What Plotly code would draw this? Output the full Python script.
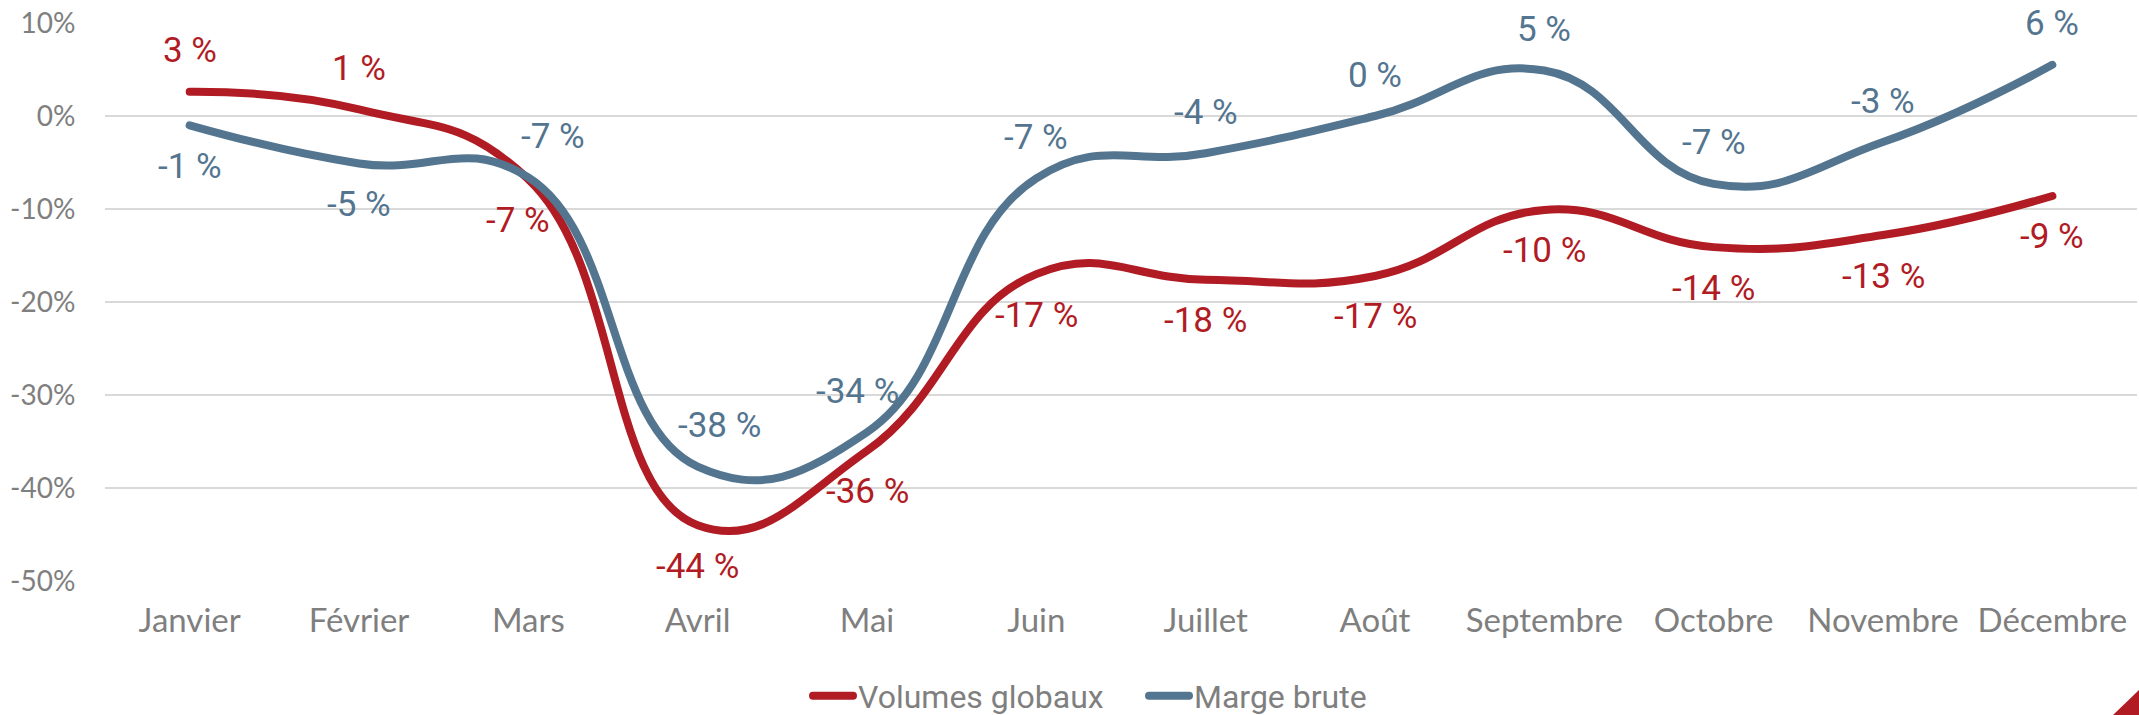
import plotly.graph_objects as go

months = ["Janvier", "Février", "Mars", "Avril", "Mai", "Juin", "Juillet",
          "Août", "Septembre", "Octobre", "Novembre", "Décembre"]
volumes_globaux = [2.6, 0.7, -6.8, -44.0, -36.0, -17.0, -17.6, -17.2, -10.1, -14.1, -12.8, -8.6]
marge_brute = [-1.0, -5.1, -6.6, -37.7, -34.0, -6.7, -4.0, 0.0, 4.9, -7.3, -2.8, 5.5]
y_ticks = [10, 0, -10, -20, -30, -40, -50]

RED = "#B11C24"
BLUE = "#54758F"
GRAY = "#7F7F7F"

W, H = 2139, 715
L, R, T, B = 105, 2, 23, 134
PW, PH = W - L - R, H - T - B

fig = go.Figure()
fig.add_trace(go.Scatter(x=months, y=volumes_globaux, name="Volumes globaux",
                         mode="lines", line=dict(color=RED, width=8, shape="spline", smoothing=1.3)))
fig.add_trace(go.Scatter(x=months, y=marge_brute, name="Marge brute",
                         mode="lines", line=dict(color=BLUE, width=8, shape="spline", smoothing=1.3)))

# data labels: +1 above, -1 below
red_side = [1, 1, -1, -1, -1, -1, -1, -1, -1, -1, -1, -1]
blue_side = [-1, -1, 1, 1, 1, 1, 1, 1, 1, 1, 1, 1]
red_dx = [0, 0, -10, 0, 0, 0, 0, 0, 0, 0, 0, 0]
blue_dx = [0, 0, 25, 22, -10, 0, 0, 0, 0, 0, 0, 0]
OFF = 41
label_font = "Roboto, sans-serif"

annotations = []
for vals, side, dx, col in [(volumes_globaux, red_side, red_dx, RED),
                            (marge_brute, blue_side, blue_dx, BLUE)]:
    for m, v, s, d in zip(months, vals, side, dx):
        annotations.append(dict(x=m, y=v, xref="x", yref="y", text=f"{round(v):d} %",
                                showarrow=False, xanchor="center", yanchor="middle",
                                xshift=d, yshift=s * OFF,
                                font=dict(family=label_font, size=35, color=col)))

fig.update_layout(
    width=W, height=H,
    margin=dict(l=L, r=R, t=T, b=B, pad=0, autoexpand=False),
    paper_bgcolor="white", plot_bgcolor="white",
    showlegend=True,
    legend=dict(orientation="h", x=(808 - L) / PW, xanchor="left",
                y=(H - B - 696) / PH, yanchor="middle",
                entrywidth=281, entrywidthmode="pixels",
                font=dict(family="Roboto, sans-serif", size=32, color=GRAY),
                itemwidth=40, tracegroupgap=0, bgcolor="rgba(0,0,0,0)"),
    annotations=annotations,
    shapes=[dict(type="path", xref="paper", yref="paper",
                 path=f"M {(2113-L)/PW} {(H-B-715)/PH} L {(2139-L)/PW} {(H-B-715)/PH} L {(2139-L)/PW} {(H-B-690)/PH} Z",
                 fillcolor=RED, line=dict(width=0), layer="above")],
)
fig.update_xaxes(type="category", range=[-0.5, 11.5], showgrid=False, zeroline=False,
                 showline=False, ticks="outside", ticklen=10, tickcolor="rgba(0,0,0,0)",
                 tickfont=dict(family="Lato, sans-serif", size=33, color=GRAY))
fig.update_yaxes(range=[-50, 10], tickvals=y_ticks, ticktext=[f"{t}%" for t in y_ticks],
                 showgrid=True, gridcolor="#D9D9D9", gridwidth=1.5, zeroline=False,
                 showline=False, ticks="outside", ticklen=23, tickcolor="rgba(0,0,0,0)",
                 tickfont=dict(family="Lato, sans-serif", size=28, color=GRAY))

post = """
document.body.style.margin = '0';
document.body.style.overflow = 'hidden';
document.querySelectorAll('.scatterlayer .js-line, .legendlines path').forEach(function(p){
  p.style.strokeLinecap = 'round';
});
"""
fig.write_html("out.html", post_script=post, config={"displayModeBar": False})
